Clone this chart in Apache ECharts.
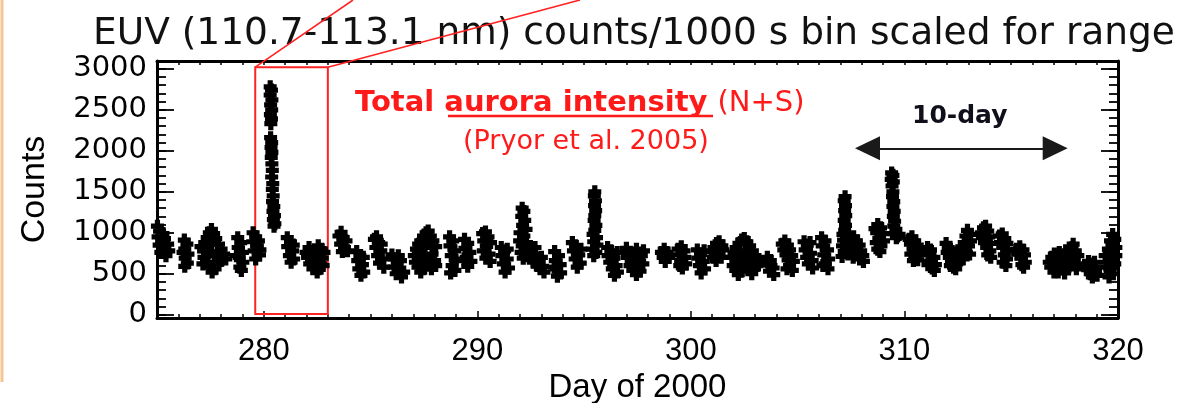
<!DOCTYPE html>
<html><head><meta charset="utf-8">
<script src="https://cdn.jsdelivr.net/npm/echarts@6/dist/echarts.min.js"></script>
<style>html,body{margin:0;padding:0;background:#fff}#c{width:1192px;height:403px}</style>
</head><body><div id="c"></div>
<script>
// ---- axes ----
const dayMin = 275, dayMax = 320;
const countMin = -40, countMax = 3095;
const xTickLabels = [280, 290, 300, 310, 320];
const yTickLabels = [0, 500, 1000, 1500, 2000, 2500, 3000];

// ---- EUV counts per 1000 s bin: [day of 2000, counts] ----
const pts275 = [
 [275.02,1080],[275.12,1020],[275.05,950],[275.22,900],[275.10,850],[275.30,800],[275.18,760],[275.42,720],[275.50,860],[275.35,930],[275.55,780],[275.28,990],
 [276.28,910],[276.40,860],[276.30,800],[276.45,740],[276.32,690],[276.42,630],[276.30,590],[276.22,760],
 [277.06,830],[277.18,780],[277.25,880],[277.35,940],[277.45,1000],[277.55,1040],[277.65,990],[277.75,930],[277.88,860],[278.00,800],[278.12,740],[278.22,680],[277.20,700],[277.32,640],[277.45,580],[277.58,520],[277.72,560],[277.85,620],[278.00,660],[277.40,760],[277.55,860],[277.68,720],[277.90,760],[277.15,620],
 [278.78,940],[278.92,880],[278.80,820],[279.00,760],[278.85,700],[279.02,640],[278.88,580],[278.95,540],[278.72,720],
 [279.50,1000],[279.62,950],[279.48,890],[279.70,840],[279.55,780],[279.80,730],[279.62,680],[279.75,900],[279.82,790],
 [280.30,2780],[280.36,2740],[280.30,2680],[280.38,2620],[280.32,2560],[280.37,2500],[280.31,2440],[280.36,2390],[280.33,2330],[280.32,2160],[280.37,2100],[280.34,2040],[280.38,1980],[280.35,1920],[280.38,1840],[280.40,1760],[280.37,1680],[280.42,1600],[280.40,1530],[280.44,1450],[280.41,1380],[280.47,1320],[280.43,1260],[280.50,1210],[280.45,1160],[280.52,1110],[280.48,1080],
 [281.10,940],[281.25,890],[281.12,830],[281.35,780],[281.20,720],[281.40,680],[281.28,640],[281.38,850],
 [281.98,760],[282.05,700],[282.12,820],[282.20,760],[282.28,690],[282.35,630],[282.42,580],[282.50,520],[282.58,560],[282.66,620],[282.74,690],[282.82,760],[282.70,800],[282.60,720],[282.45,680],[282.30,560],[282.15,620],[282.55,840],[282.40,760],[282.78,600],
 [283.52,960],[283.62,1005],[283.72,940],[283.85,900],[283.60,860],[283.78,820],[283.92,780],[283.68,770],
 [284.35,770],[284.50,720],[284.40,660],[284.62,610],[284.45,560],[284.68,520],[284.55,480],[284.66,700]
];
const pts285 = [
 [285.18,920],[285.28,950],[285.38,880],[285.25,820],[285.48,780],[285.33,720],[285.55,680],[285.42,630],[285.62,580],[285.50,860],
 [286.00,730],[286.12,680],[286.25,630],[286.10,580],[286.35,540],[286.20,500],[286.45,460],[286.55,520],[286.40,660],[286.30,720],
 [287.05,720],[287.15,800],[287.25,860],[287.35,900],[287.48,960],[287.60,1000],[287.70,1020],[287.80,960],[287.92,900],[288.05,830],[287.10,640],[287.22,580],[287.35,520],[287.48,560],[287.62,620],[287.75,680],[287.88,740],[288.00,660],[287.30,760],[287.55,820],[287.68,880],[287.42,700],[287.85,560],[288.05,600],
 [288.70,950],[288.85,900],[288.72,840],[288.95,780],[288.78,720],[289.00,660],[288.82,600],[288.95,540],[288.75,510],
 [289.40,920],[289.55,870],[289.42,810],[289.65,760],[289.48,700],[289.70,650],[289.55,590],[289.38,680],
 [290.25,990],[290.38,1010],[290.50,950],[290.30,900],[290.62,880],[290.42,840],[290.28,780],[290.55,740],[290.40,690],[290.60,650],
 [291.12,820],[291.28,780],[291.15,720],[291.40,680],[291.22,620],[291.46,570],[291.30,520],[291.40,800],
 [292.10,1300],[292.18,1260],[292.08,1200],[292.22,1150],[292.12,1090],[292.28,1040],[292.00,1000],[292.18,960],[291.98,900],[292.30,880],[292.10,840],[292.36,800],[292.05,760],[292.25,720],[292.15,690],
 [292.46,830],[292.55,780],[292.50,700],[292.65,740],[292.62,640],[292.75,680],[292.80,600],[292.90,640],[292.95,560],[293.05,590],[293.12,520],[293.00,700],[292.70,820],
 [293.62,770],[293.80,720],[293.65,660],[293.88,610],[293.70,560],[293.90,510],[293.75,470],[293.60,580],
 [294.45,880],[294.60,840],[294.50,780],[294.75,730],[294.58,680],[294.82,630],[294.68,580],[294.85,800]
];
const pts295 = [
 [295.50,1500],[295.48,1450],[295.53,1390],[295.49,1330],[295.54,1270],[295.50,1210],[295.47,1150],[295.55,1090],[295.50,1030],[295.42,980],[295.58,940],[295.45,890],[295.60,850],[295.40,800],[295.55,760],[295.45,720],
 [296.10,820],[296.25,780],[296.12,720],[296.40,690],[296.20,640],[296.50,600],[296.32,560],[296.56,520],[296.42,480],[296.55,760],
 [296.98,810],[297.10,760],[297.02,700],[297.22,740],[297.30,660],[297.15,600],[297.40,620],[297.28,540],[297.50,560],[297.45,490],[297.60,650],[297.68,720],[297.78,780],[297.75,620],[297.62,530],[297.45,800],
 [298.62,760],[298.75,800],[298.88,760],[298.70,700],[298.95,700],[298.80,650],
 [299.40,800],[299.55,830],[299.68,780],[299.45,730],[299.72,700],[299.52,660],[299.76,620],[299.60,570],[299.48,600],
 [300.30,790],[300.45,740],[300.32,690],[300.58,650],[300.40,600],[300.64,560],[300.48,510],[300.62,780],
 [300.95,770],[301.08,820],[301.20,870],[301.32,890],[301.45,840],[301.05,700],[301.18,660],[301.30,740],[301.42,700],[301.50,790],
 [301.92,700],[302.02,760],[302.12,820],[302.25,870],[302.38,910],[302.50,930],[302.62,890],[302.75,840],[302.88,780],[303.00,720],[303.12,660],[301.98,600],[302.10,540],[302.22,490],[302.35,530],[302.48,600],[302.60,660],[302.72,560],[302.85,500],[302.98,560],[303.10,600],[302.30,720],[302.55,780],[302.80,680],[302.20,640],
 [303.58,700],[303.72,660],[303.62,610],[303.85,570],[303.68,530],[303.88,490],[303.75,600],
 [304.28,860],[304.40,900],[304.52,850],[304.35,790],[304.62,790],[304.45,730],[304.72,720],[304.55,670],[304.80,650],[304.62,600],[304.75,540],[304.50,560]
];
const pts305 = [
 [305.30,890],[305.45,850],[305.35,790],[305.60,750],[305.42,700],[305.68,660],[305.50,620],[305.70,570],[305.58,880],
 [306.12,940],[306.28,900],[306.15,840],[306.40,790],[306.22,730],[306.45,680],[306.30,620],[306.42,560],[306.18,600],
 [307.22,1440],[307.18,1390],[307.24,1330],[307.20,1270],[307.25,1210],[307.18,1150],[307.24,1090],[307.20,1030],[307.12,980],[307.30,960],[307.15,910],[307.35,890],[307.10,840],[307.28,820],[307.18,770],[307.35,740],[307.08,710],
 [307.50,930],[307.62,950],[307.75,900],[307.55,860],[307.88,850],[307.68,800],[307.95,780],[307.80,740],[308.05,720],[307.90,680],[308.08,650],[307.60,700],
 [308.62,1050],[308.75,1100],[308.88,1060],[308.70,1000],[308.98,990],[308.80,930],[309.02,900],[308.68,880],[308.90,840],[308.75,800],[308.85,770],
 [309.40,1730],[309.46,1700],[309.38,1650],[309.48,1620],[309.42,1570],[309.46,1500],[309.44,1440],[309.50,1380],[309.46,1320],[309.52,1260],[309.48,1200],[309.54,1140],[309.50,1080],[309.60,1040],[309.55,990],[309.68,960],[309.62,940],[309.75,980],
 [310.22,920],[310.35,950],[310.48,900],[310.28,860],[310.60,850],[310.40,800],[310.65,780],[310.30,740],[310.52,720],[310.42,660],[310.62,670],
 [311.08,820],[311.22,790],[311.12,730],[311.38,700],[311.20,650],[311.45,610],[311.30,570],[311.40,540],[311.10,610],
 [311.95,870],[312.05,820],[312.00,760],[312.15,800],[312.10,700],[312.25,740],[312.20,640],[312.35,690],[312.30,580],[312.45,620],[312.40,560],[312.55,640],[312.60,720],[312.70,800],[312.80,880],[312.88,960],[312.95,1030],[313.05,980],[313.10,900],[313.00,840],[312.90,760],[312.75,680],[313.05,740],[312.50,780],[312.15,600],
 [313.60,1000],[313.70,1060],[313.80,1080],[313.90,1020],[313.65,940],[313.95,950],[313.75,880],[314.02,870],[313.85,820],[314.00,780],[313.90,730],[314.04,700],
 [314.45,960],[314.58,986],[314.70,930],[314.50,880],[314.80,870],[314.60,820],[314.82,780],[314.68,730],[314.78,680],[314.62,640],[314.75,600]
];
const pts315 = [
 [315.25,800],[315.40,830],[315.55,790],[315.30,740],[315.62,730],[315.45,690],[315.66,640],[315.50,610],[315.58,580],
 [316.78,640],[316.90,700],[317.02,740],[316.85,580],[317.00,520],[317.15,620],[317.10,700],[317.25,760],[317.30,640],[317.40,560],[317.45,700],[317.55,780],[317.60,660],[317.70,590],[317.75,730],[317.85,820],[317.90,860],[318.00,780],[317.95,680],[318.10,620],[318.05,560],[317.20,520],[317.50,510],[318.12,720],
 [318.50,600],[318.62,650],[318.75,620],[318.58,550],[318.85,580],[318.70,500],[318.95,530],[318.80,460],[319.02,480],[318.90,640],
 [319.40,720],[319.55,800],[319.65,900],[319.75,980],[319.85,920],[319.50,640],[319.62,560],[319.78,500],[319.90,820],[319.70,700],[319.85,620],[319.58,460],[319.45,580],[319.90,720],[319.72,860]
];

// ---- annotations (data coordinates) ----
const auroraBox = [[279.6, 10], [283.0, 3020]];
const tenDayArrow = [[308.27, 2030], [317.06, 2030]];

const dayTicks = []; for (let d = dayMin; d <= dayMax; d++) dayTicks.push(d);
const yMinorTicks = []; for (let v = 0; v <= 3000; v += 100) yMinorTicks.push(v);

const plus = 'path://M3,0H7V3H10V7H7V10H3V7H0V3H3Z';
const chart = echarts.init(document.getElementById('c'), null, {renderer: 'canvas'});

function xAx(pos, ticks, len, showLine, showLabel) {
  return {
    type: 'value', position: pos, min: dayMin, max: dayMax,
    axisLine: {show: showLine, onZero: false, lineStyle: {color: '#000', width: 3}},
    axisTick: {show: true, inside: true, length: len, customValues: ticks, lineStyle: {color: '#000', width: 1.5}},
    axisLabel: showLabel ? {show: true, customValues: xTickLabels, margin: 18, fontSize: 31, fontFamily: 'Liberation Sans', color: '#000', formatter: v => String(v)} : {show: false},
    splitLine: {show: false}
  };
}
function yAx(pos, ticks, len, showLine, showLabel) {
  return {
    type: 'value', position: pos, min: countMin, max: countMax,
    axisLine: {show: showLine, onZero: false, lineStyle: {color: '#000', width: 3}},
    axisTick: {show: true, inside: true, length: len, customValues: ticks, lineStyle: {color: '#000', width: 1.8}},
    axisLabel: showLabel ? {show: true, customValues: yTickLabels, margin: 10, fontSize: 29, fontFamily: 'DejaVu Sans', color: '#000', formatter: v => String(v)} : {show: false},
    splitLine: {show: false}
  };
}

const xa0 = xAx('bottom', dayTicks, 4, true, true);
xa0.name = 'Day of 2000'; xa0.nameLocation = 'middle'; xa0.nameGap = 50;
xa0.nameTextStyle = {fontSize: 33, fontFamily: 'Liberation Sans', color: '#000'};
const ya0 = yAx('left', yMinorTicks, 9, true, true);
ya0.name = 'Counts'; ya0.nameLocation = 'middle'; ya0.nameGap = 105;
ya0.nameTextStyle = {fontSize: 34, fontFamily: 'Liberation Sans', color: '#000'};

const option = {
  animation: false,
  backgroundColor: '#ffffff',
  grid: {left: 157, right: 74, top: 61, bottom: 85, containLabel: false, outerBoundsMode: 'none'},
  xAxis: [xa0, xAx('bottom', xTickLabels, 7, false, false), xAx('top', dayTicks, 4, true, false)],
  yAxis: [ya0, yAx('left', yTickLabels, 17, false, false), yAx('right', yMinorTicks, 9, true, false), yAx('right', yTickLabels, 17, false, false)],
  series: [
    {
      type: 'scatter', xAxisIndex: 0, yAxisIndex: 0, silent: true,
      symbol: plus, symbolSize: 13,
      itemStyle: {color: '#000', opacity: 1},
      data: [].concat(pts275, pts285, pts295, pts305, pts315)
    },
    {
      type: 'scatter', xAxisIndex: 0, yAxisIndex: 0, silent: true, z: 5, data: [],
      markArea: {
        silent: true,
        itemStyle: {color: 'rgba(0,0,0,0)', borderColor: '#ff2222', borderWidth: 2},
        label: {show: false},
        data: [[{coord: auroraBox[0]}, {coord: auroraBox[1]}]]
      },
      markLine: {
        silent: true, animation: false,
        symbol: ['triangle', 'triangle'], symbolSize: [24, 25],
        lineStyle: {color: '#1a1a1a', width: 2, type: 'solid'},
        label: {show: false},
        data: [[{coord: tenDayArrow[0]}, {coord: tenDayArrow[1]}]]
      }
    }
  ]
};
chart.setOption(option);

const tl = chart.convertToPixel({xAxisIndex: 0, yAxisIndex: 0}, [auroraBox[0][0], auroraBox[1][1]]);
const tr = chart.convertToPixel({xAxisIndex: 0, yAxisIndex: 0}, [auroraBox[1][0], auroraBox[1][1]]);

chart.setOption({
  graphic: [
    {type: 'line', z: 100, shape: {x1: 2, y1: 0, x2: 2, y2: 382}, style: {stroke: '#f8c592', lineWidth: 3}},
    {type: 'text', z: 100, x: 93, y: 34, style: {text: 'EUV (110.7-113.1 nm) counts/1000 s bin scaled for range', font: '37.5px "DejaVu Sans"', fill: '#111', align: 'left', verticalAlign: 'middle'}},
    {type: 'line', z: 101, shape: {x1: tl[0], y1: tl[1], x2: 353, y2: 0}, style: {stroke: '#ff2222', lineWidth: 1.6}},
    {type: 'line', z: 101, shape: {x1: tr[0], y1: tr[1], x2: 580, y2: 0}, style: {stroke: '#ff2222', lineWidth: 1.6}},
    {type: 'text', z: 100, x: 355, y: 103, style: {
      text: '{b|Total aurora intensity }{r|(N+S)}', align: 'left', verticalAlign: 'middle',
      rich: {
        b: {fontSize: 29, fontWeight: 'bold', fontFamily: 'DejaVu Sans', fill: '#ff1a1a', color: '#ff1a1a'},
        r: {fontSize: 29, fontFamily: 'DejaVu Sans', fill: '#ff1a1a', color: '#ff1a1a'}
      }}},
    {type: 'line', z: 100, shape: {x1: 448, y1: 116, x2: 713, y2: 116}, style: {stroke: '#ff1a1a', lineWidth: 2.5}},
    {type: 'text', z: 100, x: 463, y: 142, style: {text: '(Pryor et al. 2005)', font: '27px "DejaVu Sans"', fill: '#ff1a1a', align: 'left', verticalAlign: 'middle'}},
    {type: 'text', z: 100, x: 912, y: 116, style: {text: '10-day', font: 'bold 25px "DejaVu Sans"', fill: '#10101c', align: 'left', verticalAlign: 'middle'}}
  ]
});
</script>
</body></html>
